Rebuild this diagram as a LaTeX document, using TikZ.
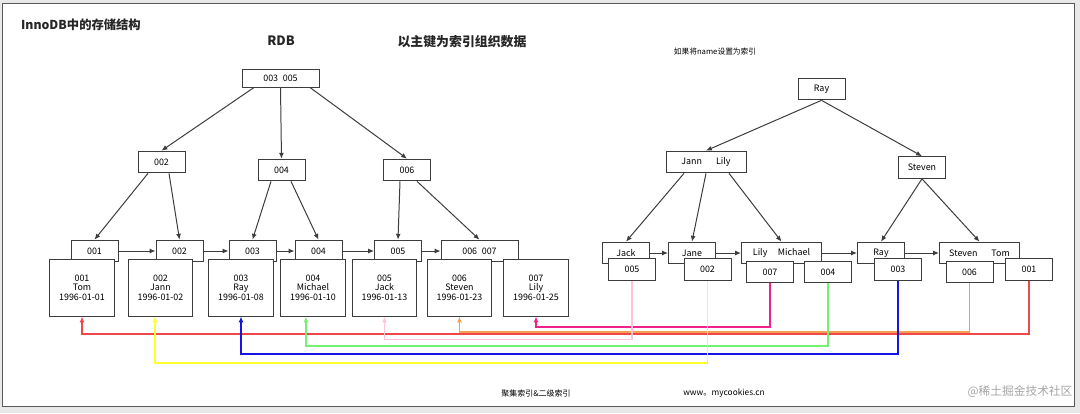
\documentclass[tikz,border=0pt]{standalone}
\usepackage{fontspec}
\setmainfont{Noto Sans CJK SC}
\usetikzlibrary{arrows.meta}
\definecolor{kgray}{HTML}{3C3C3C}
\definecolor{kframe}{HTML}{E8E8E8}
\definecolor{kred}{HTML}{F04848}
\definecolor{kyel}{HTML}{FFFF30}
\definecolor{kblue}{HTML}{1414E6}
\definecolor{kgreen}{HTML}{74F074}
\definecolor{kpink}{HTML}{FFC4D6}
\definecolor{korange}{HTML}{F4A050}
\definecolor{kmag}{HTML}{F0208C}

\begin{document}
\begin{tikzpicture}[
  x=0.03cm,y=-0.03cm,
  font=\fontsize{7.6}{8.2}\selectfont,
  k/.style={draw=kgray,line width=0.85pt,fill=white,minimum width=1.41cm,
            minimum height=0.65cm,inner sep=0pt,align=center},
  kl/.style={k,minimum width=2.40cm},
  kr/.style={k,minimum width=2.31cm,minimum height=0.54cm},
  rec/.style={k,minimum width=1.93cm,minimum height=1.71cm},
  a/.style={-{Latex[length=5pt,width=4.2pt]},draw=kgray,line width=0.85pt},
  c/.style={-{Latex[length=5pt,width=4.2pt]},line width=0.9pt},
  ttl/.style={font=\fontsize{11}{12}\selectfont\bfseries,text=black!85}]

\useasboundingbox (0,0) rectangle (1080,413);
\fill[kframe] (0,0) rectangle (1080,413);
\draw[draw=black!65,line width=1.2pt,fill=white] (2.5,3.5) rectangle (1074.5,406.5);

\node[ttl,font=\fontsize{10.5}{12}\selectfont\bfseries,anchor=west] (title) at (17,25) {InnoDB中的存储结构};
\node[ttl] (rdb) at (281,41) {RDB};
\node[ttl] (pk) at (462,42) {以主键为索引组织数据};
\node[font=\fontsize{6.6}{7}\selectfont] (ni) at (715,52) {如果将name设置为索引};

% clustered index on the primary key
\node[kr] (r)  at (280.5,78) {003\hspace{4pt}005};
\node[k]  (k2) at (161.5,162) {002};
\node[k]  (k4) at (281.5,170) {004};
\node[k]  (k6) at (407,170)   {006};

\node[k]  (l1) at (94.5,251)  {001};
\node[k]  (l2) at (179.5,251) {002};
\node[k]  (l3) at (252.5,251) {003};
\node[k]  (l4) at (318.5,251) {004};
\node[k]  (l5) at (398,251)   {005};
\node[kr,minimum height=0.65cm] (l6) at (479.5,251) {006\hspace{4pt}007};

\node[rec] (d1) at (82,287.5)    {001\\Tom\\1996-01-01};
\node[rec] (d2) at (160.5,287.5) {002\\Jann\\1996-01-02};
\node[rec] (d3) at (241,287.5)   {003\\Ray\\1996-01-08};
\node[rec] (d4) at (313,287.5)   {004\\Michael\\1996-01-10};
\node[rec] (d5) at (384.5,287.5) {005\\Jack\\1996-01-13};
\node[rec] (d6) at (459.5,287.5) {006\\Steven\\1996-01-23};
\node[rec] (d7) at (536,287.5)   {007\\Lily\\1996-01-25};

\draw[a] (r.south) ++(-26.5,0) -- (k2.north);
\draw[a] (r.south) -- (k4.north);
\draw[a] (r.south) ++(29.5,0) -- (k6.north);
\draw[a] (k2.south) ++(-13.5,0) -- (l1.north);
\draw[a] (k2.south) ++(7.5,0) -- (l2.north);
\draw[a] (k4.south) ++(-10.5,0) -- (l3.north);
\draw[a] (k4.south) ++(9.5,0) -- (l4.north);
\draw[a] (k6.south) ++(-7,0) -- (l5.north);
\draw[a] (k6.south) ++(10,0) -- (l6.north);
\draw[a] (l1.east) -- (l2.west);
\draw[a] (l2.east) -- (l3.west);
\draw[a] (l3.east) -- (l4.west);
\draw[a] (l4.east) -- (l5.west);
\draw[a] (l5.east) -- (l6.west);

% secondary index on name
\node[k]  (nray) at (821.5,89) {Ray};
\node[kl] (njl)  at (706,162)  {Jann\hspace{12pt}Lily};
\node[k]  (nst)  at (922,167.5) {Steven};

\node[k]  (sjack) at (626,253)   {Jack};
\node[k]  (sjane) at (692,253)   {Jane};
\node[kl] (slm)   at (781.5,253) {Lily\hspace{9pt}Michael};
\node[k]  (sray)  at (881,253)   {Ray};
\node[kl] (sst)   at (979.5,253) {Steven\hspace{12pt}Tom};

\node[k] (p5) at (632,269.5)  {005};
\node[k] (p2) at (707.5,269.5) {002};
\node[k] (p7) at (770,272)    {007};
\node[k] (p4) at (828,272)    {004};
\node[k] (p3) at (898,269.5)  {003};
\node[k] (p6) at (969.5,272)  {006};
\node[k] (p1) at (1029,269.5) {001};

\draw[a] (nray.south) -- (njl.north);
\draw[a] (nray.south) -- (nst.north);
\draw[a] (njl.south) ++(-22,0) -- (sjack.north);
\draw[a] (njl.south) -- (sjane.north);
\draw[a] (njl.south) ++(23,0) -- (slm.north);
\draw[a] (nst.south) -- (sray.north);
\draw[a] (nst.south) -- (sst.north);
\draw[a] (sjack.east) -- (sjane.west);
\draw[a] (sjane.east) -- (slm.west);
\draw[a] (slm.east) -- (sray.west);
\draw[a] (sray.east) -- (sst.west);

% back to the rows
\draw[c,kmag]    (p7.south) -- (p7.south |- 0,327) -| (d7.south);
\draw[c,kred]    (p1.south) -- (p1.south |- 0,334) -| (d1.south);
\draw[c,korange] (p6.south) -- (p6.south |- 0,332) -| (d6.south);
\draw[c,kpink]   (p5.south) -- (p5.south |- 0,339.5) -| (d5.south);
\draw[c,kgreen]  (p4.south) -- (p4.south |- 0,346) -| ([xshift=-6pt]d4.south);
\draw[c,kblue]   (p3.south) -- (p3.south |- 0,354) -| (d3.south);
\draw[c,kyel]    (p2.south) -- (p2.south |- 0,363) -| ([xshift=-4.7pt]d2.south);

\node[font=\fontsize{6.8}{7}\selectfont] (ci) at (536,393) {聚集索引\&二级索引};
\node[font=\fontsize{7.1}{8}\selectfont] (www) at (724,393) {www。mycookies.cn};
\node[font=\fontsize{10}{12}\selectfont,text=black!35] (wm) at (1020,392) {@稀土掘金技术社区};
\end{tikzpicture}
\end{document}
